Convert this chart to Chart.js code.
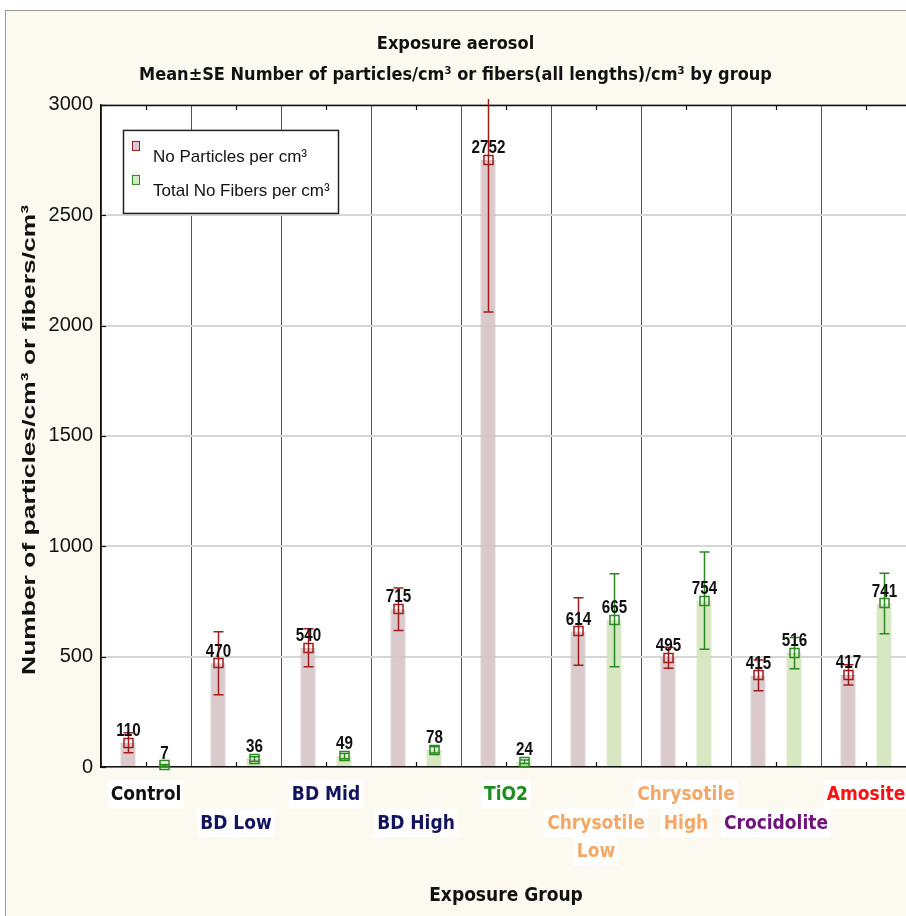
<!DOCTYPE html>
<html>
<head>
<meta charset="utf-8">
<script src="https://cdn.jsdelivr.net/npm/chart.js@4"></script>
<style>
  body { margin: 0; overflow: hidden; background: #fff; }
  #wrap { width: 924px; height: 916px; }
</style>
</head>
<body>
<div id="wrap"><canvas id="aerosolChart" width="924" height="916"></canvas></div>
<script>
// groups and staggered tick labels
var groups = ['Control', 'BD Low', 'BD Mid', 'BD High', 'TiO2', 'Chrysotile Low', 'Chrysotile High', 'Crocidolite', 'Amosite'];
var tickLabels = [['Control'], ['', 'BD Low'], ['BD Mid'], ['', 'BD High'], ['TiO2'], ['', 'Chrysotile', 'Low'], ['Chrysotile', 'High'], ['', 'Crocidolite'], ['Amosite']];
var labelColors = ['#111111', '#14145e', '#14145e', '#14145e', '#1e8c1e', '#f5a865', '#f5a865', '#6e1478', '#ff1010'];

// mean and SE values
var particles = [110, 470, 540, 715, 2752, 614, 495, 415, 417];
var particlesSE = [45, 143, 86, 96, 690, 153, 48, 70, 46];
var fibers = [7, 36, 49, 78, 24, 665, 754, 516, 741];
var fibersSE = [4, 10, 12, 14, 8, 211, 220, 71, 137];

var yTicks = [0, 500, 1000, 1500, 2000, 2500, 3000];
var yTitle = 'Number of particles/cm³ or fibers/cm³';

var narrow = "'DejaVu Sans Condensed', 'DejaVu Sans', sans-serif";
var arial = "'Liberation Sans', Arial, sans-serif";
var tickFont = { family: narrow, size: 19, weight: 'bold', lineHeight: 1.5 };

var seriesStyle = [
    { name: 'No Particles per cm³', se: particlesSE, line: '#a01c1c', fill: 'rgba(214,196,198,0.9)', border: '#cdb7b9' },
    { name: 'Total No Fibers per cm³', se: fibersSE, line: '#2a8a22', fill: 'rgba(212,230,190,0.95)', border: '#c3daa8' }
];

// narrow text like Arial Narrow: squeeze Liberation Sans horizontally
function narrowText(c, txt, x, y, size) {
    c.save();
    c.translate(x, y);
    c.scale(0.8, 1);
    c.font = 'bold ' + size + 'px ' + arial;
    c.textAlign = 'center';
    c.textBaseline = 'middle';
    c.fillText(txt, 0, 0);
    c.restore();
}

// background, frame, error bars, markers, value labels, legend
var extras = {
    id: 'extras',
    beforeDraw: function (chart) {
        var c = chart.ctx, a = chart.chartArea, x = chart.scales.x;
        c.save();
        c.fillStyle = '#ffffff';
        c.fillRect(0, 0, chart.width, chart.height);
        c.fillStyle = '#fcfaf0';
        c.fillRect(5, 10, chart.width, chart.height);
        c.strokeStyle = '#9a9a9a';
        c.lineWidth = 1;
        c.strokeRect(5.5, 10.5, chart.width, chart.height);
        c.fillStyle = '#ffffff';
        c.fillRect(a.left, a.top, a.right - a.left, a.bottom - a.top);
        // white boxes behind the group labels
        c.font = 'bold ' + tickFont.size + 'px ' + narrow;
        var lh = tickFont.size * tickFont.lineHeight;
        tickLabels.forEach(function (lines, i) {
            var px = x.getPixelForValue(i);
            lines.forEach(function (t, k) {
                if (!t) return;
                var w = c.measureText(t).width;
                var cy = a.bottom + 13 + lh * (k + 0.5);
                c.fillRect(px - w / 2 - 3, cy - 14, w + 6, 28);
            });
        });
        c.restore();
    },
    afterDatasetsDraw: function (chart) {
        var c = chart.ctx, a = chart.chartArea;
        var y = chart.scales.y, x = chart.scales.x;
        c.save();
        // top border and inward ticks
        c.strokeStyle = '#111';
        c.lineWidth = 1.5;
        c.beginPath();
        c.moveTo(a.left, a.top + 0.5);
        c.lineTo(a.right, a.top + 0.5);
        c.stroke();
        c.lineWidth = 1.2;
        groups.forEach(function (g, i) {
            var px = Math.round(x.getPixelForValue(i)) + 0.5;
            c.beginPath();
            c.moveTo(px, a.bottom); c.lineTo(px, a.bottom - 5);
            c.moveTo(px, a.top); c.lineTo(px, a.top + 5);
            c.stroke();
        });
        yTicks.forEach(function (t) {
            var py = Math.round(y.getPixelForValue(t)) + 0.5;
            c.beginPath();
            c.moveTo(a.left, py); c.lineTo(a.left + 5, py);
            c.stroke();
        });

        chart.data.datasets.forEach(function (ds, di) {
            var meta = chart.getDatasetMeta(di);
            var st = seriesStyle[di];
            meta.data.forEach(function (bar, i) {
                var v = ds.data[i], se = st.se[i];
                var px = Math.round(bar.x) + 0.5;
                var py = y.getPixelForValue(v);
                var top = Math.max(y.getPixelForValue(v + se), a.top - 6);
                var bot = y.getPixelForValue(Math.max(v - se, 0));
                c.strokeStyle = st.line;
                c.lineWidth = 1.5;
                c.beginPath();
                c.moveTo(px, top); c.lineTo(px, bot);
                if (top > a.top) { c.moveTo(px - 5, top); c.lineTo(px + 5, top); }
                c.moveTo(px - 5, bot); c.lineTo(px + 5, bot);
                c.stroke();
                c.strokeRect(px - 4.5, Math.round(py) - 4.5, 9, 9);
                c.fillStyle = '#111';
                narrowText(c, String(v), px, py - 12, 19);
            });
        });

        // legend box
        var lx = a.left + 22, ly = a.top + 25;
        c.fillStyle = '#ffffff';
        c.fillRect(lx, ly, 215, 83);
        c.strokeStyle = '#222';
        c.lineWidth = 1.5;
        c.strokeRect(lx + 0.5, ly + 0.5, 215, 83);
        seriesStyle.forEach(function (st, k) {
            var my = ly + 11 + k * 34;
            c.fillStyle = st.fill;
            c.fillRect(lx + 9, my, 8, 10);
            c.strokeStyle = st.line;
            c.lineWidth = 1;
            c.strokeRect(lx + 9.5, my + 0.5, 7, 9);
            c.fillStyle = '#111';
            c.font = '17px ' + arial;
            c.textAlign = 'left';
            c.textBaseline = 'middle';
            c.fillText(st.name, lx + 30, my + 16);
        });

        // y axis title, stretched along its length like the original
        c.translate(30, (a.top + a.bottom) / 2 + 4);
        c.rotate(-Math.PI / 2);
        c.font = 'bold 19px ' + arial;
        var sx = 470 / c.measureText(yTitle).width;
        c.scale(sx, 1);
        c.fillStyle = '#111';
        c.textAlign = 'center';
        c.textBaseline = 'middle';
        c.fillText(yTitle, 0, 0);
        c.restore();
    }
};

var ctx = document.getElementById('aerosolChart').getContext('2d');
var aerosolChart = new Chart(ctx, {
    type: 'bar',
    data: {
        labels: tickLabels,
        datasets: [{
            label: seriesStyle[0].name,
            data: particles,
            backgroundColor: seriesStyle[0].fill,
            borderColor: seriesStyle[0].border,
            borderWidth: 1
        }, {
            label: seriesStyle[1].name,
            data: fibers,
            backgroundColor: seriesStyle[1].fill,
            borderColor: seriesStyle[1].border,
            borderWidth: 1
        }]
    },
    options: {
        responsive: false,
        animation: false,
        categoryPercentage: 0.8,
        barPercentage: 0.42,
        layout: { padding: { left: 0, right: 13, top: 0, bottom: 0 } },
        plugins: {
            legend: { display: false },
            tooltip: { enabled: false },
            title: {
                display: true,
                text: ['Exposure aerosol', 'Mean±SE Number of particles/cm³ or fibers(all lengths)/cm³ by group'],
                color: '#111',
                font: { family: narrow, size: 18, weight: 'bold', lineHeight: 1.72 },
                padding: { top: 29, bottom: 14 }
            }
        },
        scales: {
            x: {
                grid: { color: '#555555', lineWidth: 1, offset: true, drawTicks: false },
                border: { color: '#111', width: 1.5 },
                ticks: {
                    autoSkip: false,
                    maxRotation: 0,
                    padding: 14,
                    color: function (c) { return labelColors[c.index]; },
                    font: tickFont
                },
                title: {
                    display: true,
                    text: 'Exposure Group',
                    color: '#111',
                    font: { family: narrow, size: 19, weight: 'bold', lineHeight: 1.2 },
                    padding: { top: 0, bottom: 9 }
                },
                afterFit: function (s) { s.height = 149; }
            },
            y: {
                min: 0,
                max: 3000,
                afterBuildTicks: function (s) { s.ticks = yTicks.map(function (v) { return { value: v }; }); },
                grid: { color: '#d6d6d6', lineWidth: 2, drawTicks: false },
                border: { color: '#111', width: 1.5 },
                ticks: {
                    padding: 8,
                    color: '#111',
                    font: { family: arial, size: 20 },
                    callback: function (v) { return String(v); }
                },
                afterFit: function (s) { s.width = 101; }
            }
        }
    },
    plugins: [extras]
});
</script>
</body>
</html>
